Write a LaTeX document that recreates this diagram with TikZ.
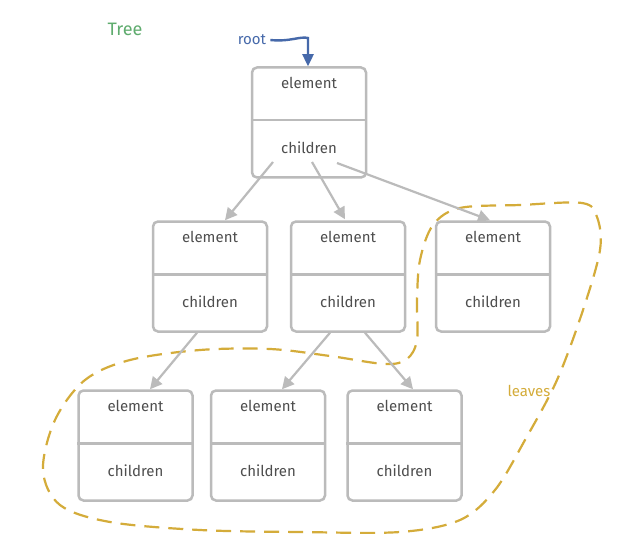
\documentclass[tikz,border=0pt]{standalone}
\usepackage{fontspec}
\setmainfont{Fira Sans}
\usetikzlibrary{arrows.meta,calc}
\definecolor{boxgray}{RGB}{187,187,187}
\definecolor{txtgray}{RGB}{78,78,78}
\definecolor{rootblue}{RGB}{70,105,170}
\definecolor{treegreen}{RGB}{95,172,110}
\definecolor{leafgold}{RGB}{212,172,58}
\tikzset{
  tb/.style={draw=boxgray, line width=2.5pt, rounded corners=5pt, minimum width=114pt, minimum height=110pt, inner sep=0pt},
  divline/.style={draw=boxgray, line width=2.5pt},
  lbl/.style={anchor=base, text=txtgray, font=\fontsize{15}{17}\selectfont, inner sep=0pt},
  arr/.style={draw=boxgray, line width=2.2pt, -{Triangle[length=12pt,width=12pt]}},
  rootarr/.style={draw=rootblue, line width=2.4pt, -{Triangle[length=12pt,width=11pt]}},
  leafline/.style={draw=leafgold, line width=2.2pt, dash pattern=on 15pt off 9pt},
}
\newcommand\treebox[3]{%
  \node[tb] (#1) at (#2,#3) {};
  \draw[divline] ($(#1.north west)+(0,54)$) -- ($(#1.north east)+(0,54)$);
  \node[lbl] (#1e) at ($(#1.north)+(0,22)$) {element};
  \node[lbl] (#1c) at ($(#1.north)+(0,87)$) {children};
}
\begin{document}
\begin{tikzpicture}[x=1pt,y=-1pt]
\useasboundingbox (0,0) rectangle (618,556);
\fill[white] (0,0) rectangle (618,556);
% dashed leaves outline
\draw[leafline] plot[smooth cycle, tension=0.55] coordinates {
 (582,203) (520,205) (460,208) (433,225) (420,260) (417,300) (417,340) (407,359) (385,364)
 (330,356) (270,349) (200,350) (130,360) (85,380) (55,420) (43,470) (60,505) (110,522)
 (200,530) (300,532) (400,532) (460,520) (495,490) (525,440) (557,380) (583,310) (600,250) (597,217)};
\treebox{r}{309}{122.5}
\treebox{a}{210}{276.5}
\treebox{b}{348}{276.5}
\treebox{c}{493}{276.5}
\treebox{d}{135.5}{445.5}
\treebox{e}{268}{445.5}
\treebox{f}{404.5}{445.5}
% arrows
\draw[arr] ($(r.center)+(-36,39.5)$) -- ($(a.north)+(15,0)$);
\draw[arr] ($(r.center)+(3,39.5)$) -- ($(b.north)+(-3,-1)$);
\draw[arr] ($(r.center)+(28,40.5)$) -- ($(c.north)+(-3,0)$);
\draw[arr] ($(a.south)+(-13,0)$) -- ($(d.north)+(14.5,0)$);
\draw[arr] ($(b.south)+(-18,0)$) -- ($(e.north)+(14,0)$);
\draw[arr] ($(b.south)+(17,0)$) -- ($(f.north)+(8.5,0)$);
% labels
\node[text=treegreen, font=\fontsize{18}{20}\selectfont, inner sep=0pt] (tree) at (125,29) {Tree};
\node[text=rootblue, font=\fontsize{15}{17}\selectfont, inner sep=0pt] (root) at (252,40) {root};
\node[text=leafgold, font=\fontsize{15}{17}\selectfont, inner sep=0pt] (leaves) at (529,391) {leaves};
\coordinate (bend) at (308,38);
\draw[rootarr] ($(root.east)+(4,0)$) .. controls (290,42) and (300,36) .. (bend) -- ($(r.north)+(-1,0)$);
\end{tikzpicture}
\end{document}
